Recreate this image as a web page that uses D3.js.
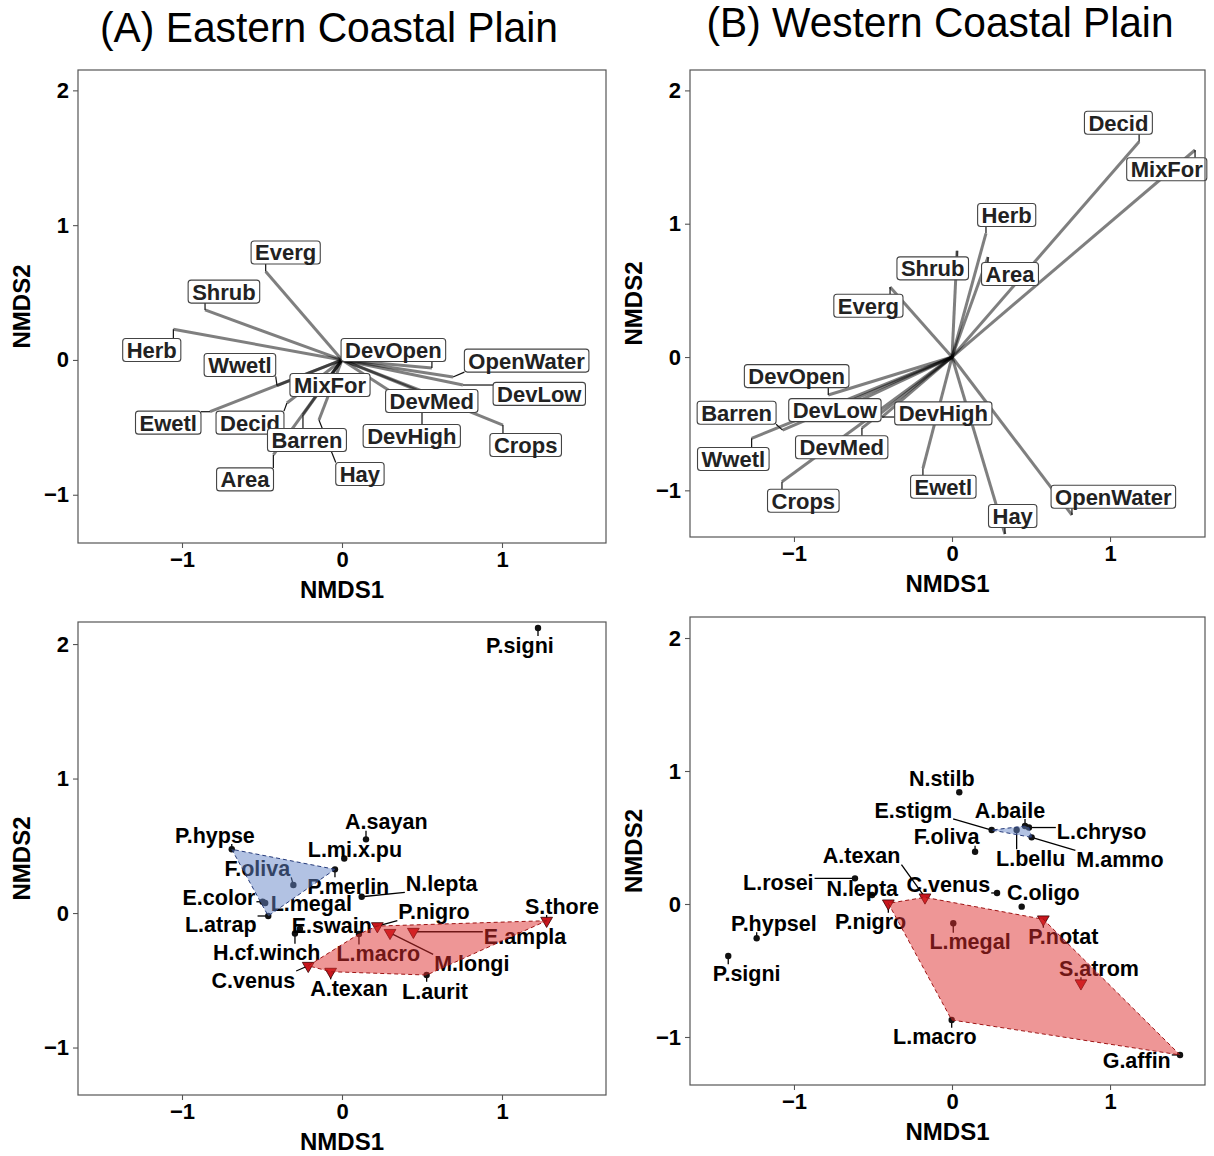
<!DOCTYPE html>
<html>
<head>
<meta charset="utf-8">
<script src="https://cdn.jsdelivr.net/npm/d3@7"></script>
<style>
  body { margin: 0; background: #fff; }
  svg { display: block; }
</style>
</head>
<body>
<svg id="fig" width="1214" height="1156"></svg>
<script>
// ---- Environmental vectors: [variable, NMDS1 tip, NMDS2 tip, label NMDS1, label NMDS2] ----
const ecpEnv = [
  ["Everg",     -0.477,  0.656, -0.352,  0.797],
  ["Shrub",     -0.856,  0.371, -0.738,  0.507],
  ["Herb",      -1.054,  0.228, -1.189,  0.074],
  ["Wwetl",     -0.406, -0.190, -0.638, -0.037],
  ["Ewetl",     -0.825, -0.384, -1.086, -0.465],
  ["Decid",     -0.344, -0.319, -0.575, -0.465],
  ["Area",      -0.429, -0.705, -0.606, -0.886],
  ["Barren",    -0.244, -0.408, -0.219, -0.594],
  ["Hay",       -0.144, -0.445,  0.112, -0.846],
  ["MixFor",    -0.150, -0.240, -0.075, -0.186],
  ["DevOpen",    0.562, -0.059,  0.321,  0.074],
  ["OpenWater",  0.694, -0.126,  1.154, -0.005],
  ["DevLow",     0.756, -0.186,  1.233, -0.252],
  ["DevMed",     0.519, -0.238,  0.561, -0.305],
  ["DevHigh",    0.500, -0.384,  0.436, -0.564],
  ["Crops",      1.006, -0.483,  1.148, -0.631]
];

const wcpEnv = [
  ["Decid",      1.184,  1.615,  1.053,  1.757],
  ["MixFor",     1.538,  1.553,  1.359,  1.408],
  ["Herb",       0.215,  0.928,  0.346,  1.065],
  ["Shrub",      0.032,  0.797, -0.122,  0.665],
  ["Area",       0.228,  0.750,  0.367,  0.623],
  ["Everg",     -0.392,  0.525, -0.529,  0.385],
  ["DevOpen",   -0.783, -0.285, -0.983, -0.143],
  ["Barren",    -1.072, -0.548, -1.363, -0.418],
  ["Wwetl",     -1.268, -0.610, -1.384, -0.765],
  ["DevMed",    -0.570, -0.533, -0.698, -0.677],
  ["Crops",     -1.076, -0.936, -0.941, -1.078],
  ["DevLow",    -0.646, -0.360, -0.741, -0.398],
  ["DevHigh",   -0.443, -0.450, -0.055, -0.423],
  ["Ewetl",     -0.184, -0.835, -0.055, -0.973],
  ["Hay",        0.335, -1.328,  0.384, -1.193],
  ["OpenWater",  0.759, -1.185,  1.021, -1.048]
];

// ---- Species scores: [species, NMDS1, NMDS2, label NMDS1, label NMDS2, marker, cluster] ----
const ecpSpecies = [
  ["P.signi",     1.225,  2.119,  1.112,  1.993, "circle",   0],
  ["P.hypse",    -0.689,  0.474, -0.794,  0.580, "circle",   1],
  ["F.oliva",    -0.304,  0.208, -0.529,  0.332, "circle",   1],
  ["E.color",    -0.496,  0.084, -0.769,  0.117, "circle",   1],
  ["L.atrap",    -0.461, -0.022, -0.758, -0.084, "circle",   1],
  ["L.megal",    -0.480,  0.075, -0.192,  0.076, "circle",   1],
  ["P.merlin",   -0.044,  0.325,  0.039,  0.200, "circle",   1],
  ["L.mi.x.pu",   0.014,  0.406,  0.081,  0.474, "circle",   0],
  ["A.sayan",     0.150,  0.548,  0.277,  0.679, "circle",   0],
  ["N.lepta",     0.123,  0.121,  0.623,  0.221, "circle",   0],
  ["E.swain",    -0.263, -0.119, -0.064, -0.090, "circle",   0],
  ["H.cf.winch", -0.294, -0.152, -0.471, -0.295, "circle",   0],
  ["C.venus",    -0.211, -0.392, -0.554, -0.498, "triangle", 2],
  ["A.texan",    -0.071, -0.436,  0.044, -0.560, "triangle", 2],
  ["L.macro",     0.106, -0.156,  0.227, -0.300, "circle",   2],
  ["L.aurit",     0.529, -0.461,  0.581, -0.578, "circle",   2],
  ["M.longi",     0.300, -0.147,  0.811, -0.374, "triangle", 2],
  ["E.ampla",     0.446, -0.139,  1.144, -0.176, "triangle", 2],
  ["P.nigro",     0.221, -0.097,  0.575,  0.010, "triangle", 2],
  ["S.thore",     1.279, -0.057,  1.375,  0.052, "triangle", 2]
];

const wcpSpecies = [
  ["N.stilb",     0.046,  0.840, -0.065,  0.945, "circle",   0],
  ["E.stigm",     0.251,  0.556, -0.245,  0.707, "circle",   1],
  ["A.baile",     0.462,  0.586,  0.367,  0.707, "circle",   1],
  ["L.chryso",    0.487,  0.575,  0.947,  0.549, "circle",   1],
  ["L.bellu",     0.409,  0.556,  0.498,  0.344, "circle",   1],
  ["M.ammo",      0.504,  0.501,  1.063,  0.336, "circle",   1],
  ["F.oliva",     0.146,  0.393, -0.034,  0.506, "circle",   0],
  ["A.texan",    -0.171,  0.050, -0.572,  0.363, "triangle", 2],
  ["C.venus",     0.285,  0.083, -0.023,  0.150, "circle",   0],
  ["C.oligo",     0.441, -0.020,  0.578,  0.085, "circle",   0],
  ["L.rosei",    -0.614,  0.193, -1.099,  0.160, "circle",   0],
  ["N.lepta",    -0.506,  0.068, -0.568,  0.118, "circle",   0],
  ["P.nigro",    -0.403,  0.005, -0.515, -0.133, "triangle", 2],
  ["P.hypsel",   -1.236, -0.258, -1.127, -0.145, "circle",   0],
  ["P.signi",    -1.416, -0.391, -1.299, -0.521, "circle",   0],
  ["L.megal",     0.008, -0.145,  0.114, -0.283, "circle",   2],
  ["P.notat",     0.578, -0.115,  0.704, -0.246, "triangle", 2],
  ["S.atrom",     0.816, -0.596,  0.930, -0.483, "triangle", 2],
  ["L.macro",    -0.002, -0.872, -0.108, -0.998, "circle",   2],
  ["G.affin",     1.443, -1.135,  1.169, -1.173, "circle",   2]
];

const xTicks = [-1, 0, 1];
const yTicks = [-1, 0, 1, 2];
const regionTitles = ["(A) Eastern Coastal Plain", "(B) Western Coastal Plain"];

// ---- page layout ----
const FONT = "'Liberation Sans', Arial, Helvetica, sans-serif";
const panels = {
  ecpEnv: { left: 78,  right: 606,  top: 70,  bottom: 543,  x: [-1.65, 1.65],   y: [-1.358, 2.151] },
  wcpEnv: { left: 690, right: 1205, top: 70,  bottom: 537,  x: [-1.658, 1.601], y: [-1.350, 2.153] },
  ecpSpp: { left: 78,  right: 606,  top: 622, bottom: 1095, x: [-1.65, 1.65],   y: [-1.353, 2.164] },
  wcpSpp: { left: 690, right: 1205, top: 617, bottom: 1085, x: [-1.658, 1.601], y: [-1.361, 2.158] }
};
const clusterStyle = {
  1: { fill: "#6686c8", stroke: "#253a7a" },
  2: { fill: "#de2d2d", stroke: "#9e1414" }
};

const svg = d3.select("#fig");
const defs = svg.append("defs");
const clamp = (v, a, b) => Math.max(a, Math.min(b, v));

// region titles
svg.append("text").attr("x", 329).attr("y", 42).attr("text-anchor", "middle")
  .attr("font-family", FONT).attr("font-size", 42).attr("fill", "#000")
  .attr("textLength", 458).attr("lengthAdjust", "spacingAndGlyphs")
  .text(regionTitles[0]);
svg.append("text").attr("x", 940).attr("y", 37).attr("text-anchor", "middle")
  .attr("font-family", FONT).attr("font-size", 42).attr("fill", "#000")
  .attr("textLength", 467).attr("lengthAdjust", "spacingAndGlyphs")
  .text(regionTitles[1]);

let clipCount = 0;
function makePanel(cfg) {
  const g = svg.append("g");
  const x = d3.scaleLinear().domain(cfg.x).range([cfg.left, cfg.right]);
  const y = d3.scaleLinear().domain(cfg.y).range([cfg.bottom, cfg.top]);

  const xa = g.append("g").attr("transform", `translate(0,${cfg.bottom})`)
    .call(d3.axisBottom(x).tickValues(xTicks).tickSize(5).tickPadding(3).tickFormat(d3.format("d")));
  const ya = g.append("g").attr("transform", `translate(${cfg.left},0)`)
    .call(d3.axisLeft(y).tickValues(yTicks).tickSize(5).tickPadding(4).tickFormat(d3.format("d")));
  [xa, ya].forEach(a => {
    a.select(".domain").remove();
    a.selectAll(".tick line").attr("stroke", "#555").attr("stroke-width", 1.1);
    a.selectAll(".tick text").attr("font-family", FONT).attr("font-weight", "bold")
      .attr("font-size", 22).attr("fill", "#000");
  });

  g.append("text").attr("x", (cfg.left + cfg.right) / 2).attr("y", cfg.bottom + 47)
    .attr("dy", "0.35em").attr("text-anchor", "middle")
    .attr("font-family", FONT).attr("font-weight", "bold").attr("font-size", 24)
    .text("NMDS1");
  g.append("text")
    .attr("transform", `translate(${cfg.left - 56},${(cfg.top + cfg.bottom) / 2}) rotate(-90)`)
    .attr("dy", "0.35em").attr("text-anchor", "middle")
    .attr("font-family", FONT).attr("font-weight", "bold").attr("font-size", 24)
    .text("NMDS2");

  const id = "clip" + (clipCount++);
  defs.append("clipPath").attr("id", id).append("rect")
    .attr("x", cfg.left).attr("y", cfg.top)
    .attr("width", cfg.right - cfg.left).attr("height", cfg.bottom - cfg.top);
  const plot = g.append("g").attr("clip-path", `url(#${id})`);
  const over = g.append("g");

  g.append("rect").attr("x", cfg.left).attr("y", cfg.top)
    .attr("width", cfg.right - cfg.left).attr("height", cfg.bottom - cfg.top)
    .attr("fill", "none").attr("stroke", "#555").attr("stroke-width", 1.2);
  return { x, y, plot, over };
}

// biplot arrows with boxed, repelled labels
function drawVectors(p, rows) {
  const ox = p.x(0), oy = p.y(0);
  p.plot.append("g").selectAll("line").data(rows).join("line")
    .attr("x1", ox).attr("y1", oy)
    .attr("x2", d => p.x(d[1])).attr("y2", d => p.y(d[2]))
    .attr("stroke", "#000").attr("stroke-opacity", 0.5).attr("stroke-width", 3);

  const conG = p.plot.append("g");
  const labG = p.over.append("g");
  rows.forEach(d => {
    const cx = p.x(d[3]), cy = p.y(d[4]);
    const lg = labG.append("g");
    const t = lg.append("text").attr("x", cx).attr("y", cy).attr("dy", "0.36em")
      .attr("text-anchor", "middle").attr("font-family", FONT).attr("font-weight", "bold")
      .attr("font-size", 22).attr("fill", "#222").text(d[0]);
    const w = t.node().getComputedTextLength() + 8, h = 23;
    lg.insert("rect", "text").attr("x", cx - w / 2).attr("y", cy - h / 2)
      .attr("width", w).attr("height", h).attr("rx", 3)
      .attr("fill", "#fff").attr("stroke", "#444").attr("stroke-width", 1.1);
    const px = p.x(d[1]), py = p.y(d[2]);
    const nx = clamp(px, cx - w / 2, cx + w / 2), ny = clamp(py, cy - h / 2, cy + h / 2);
    if (Math.hypot(px - nx, py - ny) > 2) {
      conG.append("line").attr("x1", px).attr("y1", py).attr("x2", nx).attr("y2", ny)
        .attr("stroke", "#111").attr("stroke-width", 1.2);
    }
  });
}

// species points, text labels and cluster hulls
function drawSpecies(p, rows) {
  const pts = rows.map(d => ({
    name: d[0], px: p.x(d[1]), py: p.y(d[2]), lx: p.x(d[3]), ly: p.y(d[4]),
    marker: d[5], cluster: d[6]
  }));
  const conG = p.plot.append("g");
  const ptG = p.plot.append("g");
  const labG = p.plot.append("g");
  const hullG = p.plot.append("g");

  pts.forEach(d => {
    const t = labG.append("text").attr("x", d.lx).attr("y", d.ly).attr("dy", "0.36em")
      .attr("text-anchor", "middle").attr("font-family", FONT).attr("font-weight", "bold")
      .attr("font-size", 21.5).attr("fill", "#000").text(d.name);
    const w = t.node().getComputedTextLength() + 2, h = 18;
    const nx = clamp(d.px, d.lx - w / 2, d.lx + w / 2), ny = clamp(d.py, d.ly - h / 2, d.ly + h / 2);
    if (Math.hypot(d.px - nx, d.py - ny) > 5) {
      conG.append("line").attr("x1", d.px).attr("y1", d.py).attr("x2", nx).attr("y2", ny)
        .attr("stroke", "#000").attr("stroke-width", 1.3);
    }
    if (d.marker === "triangle") {
      ptG.append("path").attr("d", d3.symbol(d3.symbolTriangle, 60)())
        .attr("transform", `translate(${d.px},${d.py}) rotate(180)`)
        .attr("fill", "#c8161d").attr("stroke", "#3a0000").attr("stroke-width", 0.8);
    } else {
      ptG.append("circle").attr("cx", d.px).attr("cy", d.py).attr("r", 3.2).attr("fill", "#111");
    }
  });

  [1, 2].forEach(c => {
    const members = pts.filter(d => d.cluster === c).map(d => [d.px, d.py]);
    const hull = d3.polygonHull(members);
    if (!hull) return;
    hullG.append("path").attr("d", "M" + hull.join("L") + "Z")
      .attr("fill", clusterStyle[c].fill).attr("fill-opacity", 0.5)
      .attr("stroke", clusterStyle[c].stroke).attr("stroke-width", 1)
      .attr("stroke-dasharray", "4,3");
  });
}

drawVectors(makePanel(panels.ecpEnv), ecpEnv);
drawVectors(makePanel(panels.wcpEnv), wcpEnv);
drawSpecies(makePanel(panels.ecpSpp), ecpSpecies);
drawSpecies(makePanel(panels.wcpSpp), wcpSpecies);
</script>
</body>
</html>
